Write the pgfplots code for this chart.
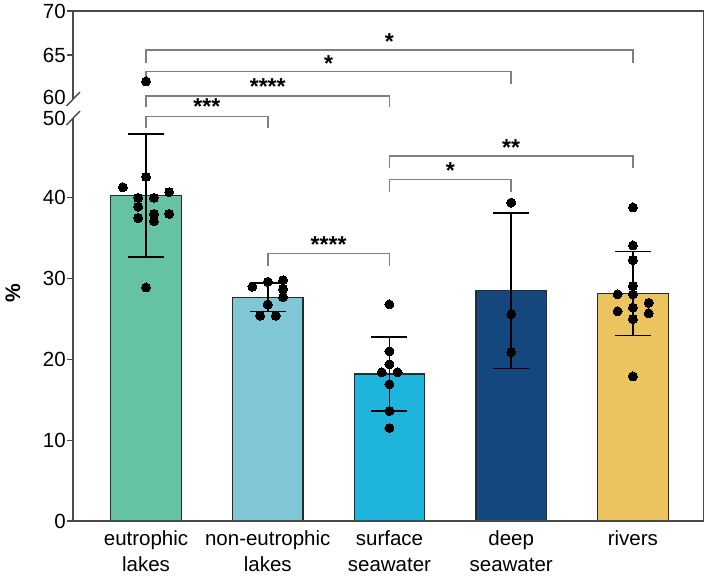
\documentclass[border=0pt]{standalone}
\usepackage{fontspec}
\setmainfont{Liberation Sans}
\usepackage{pgfplots}
\usepackage{pgfplotstable}
\pgfplotsset{compat=1.18}

\definecolor{eutro}{HTML}{66C2A5}
\definecolor{noneutro}{HTML}{80C7D6}
\definecolor{surface}{HTML}{1FB4DC}
\definecolor{deep}{HTML}{13477D}
\definecolor{rivers}{HTML}{EBC35F}
\definecolor{edge}{HTML}{2B2B2B}
\definecolor{axisgray}{HTML}{4A4A4A}
\definecolor{brk}{HTML}{7F7F7F}

% individual measurements (x = category position with jitter)
\pgfplotstableread{
x y
0 42.6
-0.19 41.3
0.19 40.7
-0.065 40.0
0.065 40.0
-0.065 38.9
-0.065 37.5
0.065 38.0
0.065 37.1
0.19 38.0
0 28.9
}\eutpts
\pgfplotstableread{
x y
0.874 29.0
1 29.6
1.126 29.8
1.126 28.7
1.126 27.7
1 26.8
0.937 25.4
1.066 25.4
}\noneutpts
\pgfplotstableread{
x y
2 26.8
2 21.0
2 19.4
1.937 18.4
2.066 18.4
2 16.9
2 13.6
2 11.5
}\surfpts
\pgfplotstableread{
x y
3 39.4
3 25.6
3 20.9
}\deeppts
\pgfplotstableread{
x y
4 38.8
4 34.1
4 32.3
4 29.1
3.874 28.05
4 28.05
4.13 27.0
4 26.4
3.874 25.95
4.13 25.7
4 25.0
4 17.9
}\riverpts

\tikzset{
  bracket/.style={brk, line width=1.5pt},
  stars/.style={font=\bfseries\fontsize{23}{27}\selectfont, anchor=base,
    yshift=-13pt, inner sep=0pt},
}

\pgfplotsset{
  brokenbase/.style={
    scale only axis, width=630.5pt, xmin=-0.6, xmax=4.58,
    axis line style={draw=none}, clip=false,
    tick align=outside, ytick pos=left, major tick length=6pt,
    tick style={axisgray, line width=1.4pt},
    yticklabel style={font=\fontsize{20.5}{24}\selectfont, inner sep=1pt},
    /pgf/number format/assume math mode=true,
  },
  barstyle/.style={
    ybar, bar width=70.5pt, bar shift=0pt, fill=#1, draw=edge, line width=1.2pt,
    error bars/.cd, y dir=both, y explicit,
    error bar style={black, line width=1.5pt},
    error mark options={black, line width=1.5pt, mark size=18pt, rotate=90},
  },
  dots/.style={only marks, mark=*, mark size=4.5pt,
    mark options={fill=black, draw=black, line width=0pt}},
}

\begin{document}
\begin{tikzpicture}
\useasboundingbox (0,0) rectangle (708pt,576pt);

% lower part: 0 -- 50
\begin{axis}[brokenbase, at={(73pt,55pt)}, anchor=south west, height=404pt,
  ymin=0, ymax=50, ytick={0,10,20,30,40},
  extra y ticks={50},
  extra y tick style={tick style={draw=none}, yticklabel style={yshift=-1.5pt}},
  xtick={0,1,2,3,4},
  xticklabels={{eutrophic\\lakes},{non-eutrophic\\lakes},{surface\\seawater},{deep\\seawater},{rivers}},
  xtick style={draw=none},
  xticklabel style={align=center, font=\fontsize{20.5}{26}\selectfont, inner sep=3pt},
]
\addplot[barstyle=eutro] coordinates {(0,40.3) +- (0,7.6)};
\addplot[barstyle=noneutro] coordinates {(1,27.7) +- (0,1.75)};
\addplot[barstyle=surface] coordinates {(2,18.2) +- (0,4.6)};
\addplot[barstyle=deep] coordinates {(3,28.5) +- (0,9.6)};
\addplot[barstyle=rivers] coordinates {(4,28.15) +- (0,5.2)};

\addplot[dots] table[x=x, y=y] {\eutpts};
\addplot[dots] table[x=x, y=y] {\noneutpts};
\addplot[dots] table[x=x, y=y] {\surfpts};
\addplot[dots] table[x=x, y=y] {\deeppts};
\addplot[dots] table[x=x, y=y] {\riverpts};

% comparisons within the lower range
\draw[bracket] (axis cs:1,31.60) |- (axis cs:2,33.13) -- (axis cs:2,31.60);
\node[stars] at (axis cs:1.5,34.90) {****};
\draw[bracket] (axis cs:2,40.76) |- (axis cs:3,42.29) -- (axis cs:3,40.76);
\node[stars] at (axis cs:2.5,43.97) {*};
\draw[bracket] (axis cs:2,43.73) |- (axis cs:4,45.17) -- (axis cs:4,43.73);
\node[stars] at (axis cs:3,46.87) {**};
\end{axis}

% upper part: 60 -- 70
\begin{axis}[brokenbase, at={(73pt,477pt)}, anchor=south west, height=88pt,
  ymin=60, ymax=70, ytick={65,70},
  extra y ticks={60},
  extra y tick style={tick style={draw=none}, yticklabel style={yshift=1.5pt}},
  xtick=\empty,
]
\addplot[dots] coordinates {(0,62.0)};

% comparisons against eutrophic lakes
\draw[bracket] (axis cs:0,64.06) |- (axis cs:4,65.57) -- (axis cs:4,64.06);
\node[stars] at (axis cs:2,67.10) {*};
\draw[bracket] (axis cs:0,61.67) |- (axis cs:3,63.10) -- (axis cs:3,61.67);
\node[stars] at (axis cs:1.5,64.55) {*};
\draw[bracket] (axis cs:0,59.06) |- (axis cs:2,60.34) -- (axis cs:2,59.06);
\node[stars] at (axis cs:1,61.97) {****};
\draw[bracket] (axis cs:0,56.67) |- (axis cs:1,57.99) -- (axis cs:1,56.67);
\node[stars] at (axis cs:0.5,59.69) {***};
\end{axis}

% frame with the broken left axis
\draw[axisgray, line width=1.6pt, line join=miter]
  (73pt,477pt) -- (73pt,565pt) -- (703.5pt,565pt) -- (703.5pt,55pt) -- (73pt,55pt) -- (73pt,458pt);
\draw[axisgray, line width=1.4pt] (66.5pt,470pt) -- (80pt,484pt);
\draw[axisgray, line width=1.4pt] (66.5pt,451pt) -- (80pt,465pt);

\node[rotate=90, font=\bfseries\fontsize{21}{25}\selectfont] at (13pt,283pt) {\%};
\end{tikzpicture}
\end{document}
